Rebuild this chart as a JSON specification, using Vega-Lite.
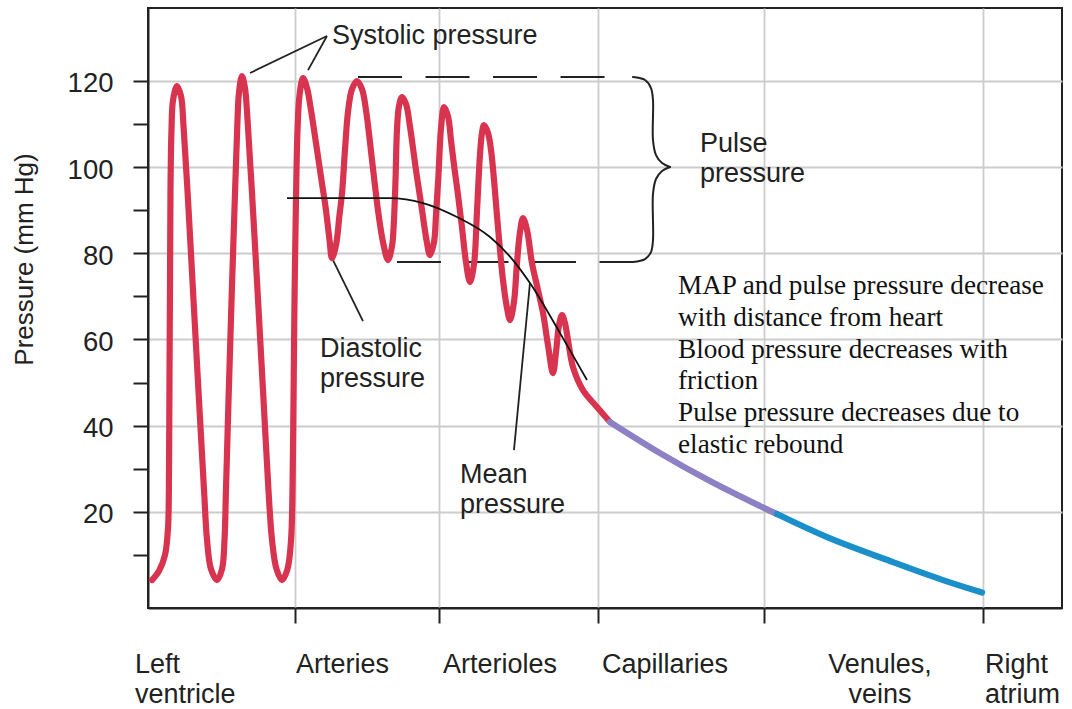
{
  "$schema": "https://vega.github.io/schema/vega-lite/v6.json",
  "width": 914,
  "height": 600,
  "autosize": {"type": "none"},
  "padding": {"left": 148, "top": 8, "right": 10, "bottom": 101},
  "background": "white",
  "config": {
    "view": {"stroke": "#222", "strokeWidth": 2},
    "axis": {"domainColor": "#222", "domainWidth": 2, "tickColor": "#222", "tickWidth": 2, "gridColor": "#cccccc", "gridWidth": 1.8}
  },
  "datasets": {
    "pressure": [
      {"i": 1, "d": 0.44, "p": 4.18, "seg": "arterial"},
      {"i": 2, "d": 1.2, "p": 6.26, "seg": "arterial"},
      {"i": 3, "d": 1.86, "p": 9.98, "seg": "arterial"},
      {"i": 4, "d": 2.19, "p": 16.24, "seg": "arterial"},
      {"i": 5, "d": 2.3, "p": 29.7, "seg": "arterial"},
      {"i": 6, "d": 2.35, "p": 50.58, "seg": "arterial"},
      {"i": 7, "d": 2.41, "p": 73.78, "seg": "arterial"},
      {"i": 8, "d": 2.46, "p": 94.66, "seg": "arterial"},
      {"i": 9, "d": 2.57, "p": 108.58, "seg": "arterial"},
      {"i": 10, "d": 2.74, "p": 115.55, "seg": "arterial"},
      {"i": 11, "d": 3.17, "p": 118.79, "seg": "arterial"},
      {"i": 12, "d": 3.61, "p": 116.47, "seg": "arterial"},
      {"i": 13, "d": 3.88, "p": 109.74, "seg": "arterial"},
      {"i": 14, "d": 4.38, "p": 92.34, "seg": "arterial"},
      {"i": 15, "d": 4.98, "p": 69.14, "seg": "arterial"},
      {"i": 16, "d": 5.58, "p": 45.94, "seg": "arterial"},
      {"i": 17, "d": 6.13, "p": 25.06, "seg": "arterial"},
      {"i": 18, "d": 6.46, "p": 13.46, "seg": "arterial"},
      {"i": 19, "d": 6.89, "p": 6.73, "seg": "arterial"},
      {"i": 20, "d": 7.55, "p": 4.18, "seg": "arterial"},
      {"i": 21, "d": 8.1, "p": 6.73, "seg": "arterial"},
      {"i": 22, "d": 8.37, "p": 13.46, "seg": "arterial"},
      {"i": 23, "d": 8.53, "p": 25.06, "seg": "arterial"},
      {"i": 24, "d": 8.81, "p": 45.94, "seg": "arterial"},
      {"i": 25, "d": 9.14, "p": 69.14, "seg": "arterial"},
      {"i": 26, "d": 9.52, "p": 93.97, "seg": "arterial"},
      {"i": 27, "d": 9.79, "p": 110.9, "seg": "arterial"},
      {"i": 28, "d": 9.96, "p": 117.4, "seg": "arterial"},
      {"i": 29, "d": 10.28, "p": 121.11, "seg": "arterial"},
      {"i": 30, "d": 10.61, "p": 118.33, "seg": "arterial"},
      {"i": 31, "d": 10.89, "p": 110.9, "seg": "arterial"},
      {"i": 32, "d": 11.38, "p": 93.97, "seg": "arterial"},
      {"i": 33, "d": 12.04, "p": 69.14, "seg": "arterial"},
      {"i": 34, "d": 12.64, "p": 45.94, "seg": "arterial"},
      {"i": 35, "d": 13.18, "p": 25.06, "seg": "arterial"},
      {"i": 36, "d": 13.57, "p": 13.46, "seg": "arterial"},
      {"i": 37, "d": 14.06, "p": 6.73, "seg": "arterial"},
      {"i": 38, "d": 14.66, "p": 4.18, "seg": "arterial"},
      {"i": 39, "d": 15.26, "p": 6.73, "seg": "arterial"},
      {"i": 40, "d": 15.65, "p": 13.46, "seg": "arterial"},
      {"i": 41, "d": 15.81, "p": 25.06, "seg": "arterial"},
      {"i": 42, "d": 15.92, "p": 45.94, "seg": "arterial"},
      {"i": 43, "d": 16.03, "p": 69.14, "seg": "arterial"},
      {"i": 44, "d": 16.19, "p": 92.34, "seg": "arterial"},
      {"i": 45, "d": 16.36, "p": 108.58, "seg": "arterial"},
      {"i": 46, "d": 16.58, "p": 116.7, "seg": "arterial"},
      {"i": 47, "d": 16.96, "p": 120.65, "seg": "arterial"},
      {"i": 48, "d": 17.4, "p": 118.33, "seg": "arterial"},
      {"i": 49, "d": 17.83, "p": 113.23, "seg": "arterial"},
      {"i": 50, "d": 18.38, "p": 105.57, "seg": "arterial"},
      {"i": 51, "d": 18.93, "p": 97.68, "seg": "arterial"},
      {"i": 52, "d": 19.47, "p": 90.02, "seg": "arterial"},
      {"i": 53, "d": 19.86, "p": 83.06, "seg": "arterial"},
      {"i": 54, "d": 20.13, "p": 78.89, "seg": "arterial"},
      {"i": 55, "d": 20.57, "p": 81.9, "seg": "arterial"},
      {"i": 56, "d": 20.95, "p": 88.86, "seg": "arterial"},
      {"i": 57, "d": 21.23, "p": 93.97, "seg": "arterial"},
      {"i": 58, "d": 21.55, "p": 103.94, "seg": "arterial"},
      {"i": 59, "d": 21.88, "p": 112.76, "seg": "arterial"},
      {"i": 60, "d": 22.32, "p": 118.1, "seg": "arterial"},
      {"i": 61, "d": 22.87, "p": 119.95, "seg": "arterial"},
      {"i": 62, "d": 23.41, "p": 118.1, "seg": "arterial"},
      {"i": 63, "d": 23.85, "p": 113.23, "seg": "arterial"},
      {"i": 64, "d": 24.51, "p": 101.62, "seg": "arterial"},
      {"i": 65, "d": 25.16, "p": 90.02, "seg": "arterial"},
      {"i": 66, "d": 25.71, "p": 82.6, "seg": "arterial"},
      {"i": 67, "d": 26.26, "p": 78.42, "seg": "arterial"},
      {"i": 68, "d": 26.7, "p": 81.67, "seg": "arterial"},
      {"i": 69, "d": 26.91, "p": 87.7, "seg": "arterial"},
      {"i": 70, "d": 27.08, "p": 96.98, "seg": "arterial"},
      {"i": 71, "d": 27.24, "p": 108.58, "seg": "arterial"},
      {"i": 72, "d": 27.46, "p": 114.15, "seg": "arterial"},
      {"i": 73, "d": 27.79, "p": 116.24, "seg": "arterial"},
      {"i": 74, "d": 28.23, "p": 114.62, "seg": "arterial"},
      {"i": 75, "d": 28.67, "p": 109.28, "seg": "arterial"},
      {"i": 76, "d": 29.32, "p": 99.3, "seg": "arterial"},
      {"i": 77, "d": 29.98, "p": 90.02, "seg": "arterial"},
      {"i": 78, "d": 30.47, "p": 83.06, "seg": "arterial"},
      {"i": 79, "d": 30.85, "p": 79.58, "seg": "arterial"},
      {"i": 80, "d": 31.29, "p": 82.6, "seg": "arterial"},
      {"i": 81, "d": 31.51, "p": 88.86, "seg": "arterial"},
      {"i": 82, "d": 31.78, "p": 98.14, "seg": "arterial"},
      {"i": 83, "d": 32.06, "p": 109.05, "seg": "arterial"},
      {"i": 84, "d": 32.39, "p": 113.92, "seg": "arterial"},
      {"i": 85, "d": 32.82, "p": 111.83, "seg": "arterial"},
      {"i": 86, "d": 33.15, "p": 106.26, "seg": "arterial"},
      {"i": 86.5, "d": 33.48, "p": 100.46, "seg": "arterial"},
      {"i": 87, "d": 33.92, "p": 93.5, "seg": "arterial"},
      {"i": 88, "d": 34.35, "p": 86.08, "seg": "arterial"},
      {"i": 89, "d": 34.79, "p": 77.96, "seg": "arterial"},
      {"i": 90, "d": 35.23, "p": 73.32, "seg": "arterial"},
      {"i": 91, "d": 35.67, "p": 77.49, "seg": "arterial"},
      {"i": 92, "d": 36.0, "p": 90.02, "seg": "arterial"},
      {"i": 93, "d": 36.32, "p": 102.78, "seg": "arterial"},
      {"i": 94, "d": 36.54, "p": 107.89, "seg": "arterial"},
      {"i": 95, "d": 36.76, "p": 109.74, "seg": "arterial"},
      {"i": 96, "d": 37.2, "p": 107.89, "seg": "arterial"},
      {"i": 97, "d": 37.53, "p": 103.94, "seg": "arterial"},
      {"i": 97.5, "d": 37.86, "p": 96.98, "seg": "arterial"},
      {"i": 98, "d": 38.29, "p": 86.08, "seg": "arterial"},
      {"i": 99, "d": 38.84, "p": 73.78, "seg": "arterial"},
      {"i": 100, "d": 39.28, "p": 67.29, "seg": "arterial"},
      {"i": 101, "d": 39.61, "p": 64.5, "seg": "arterial"},
      {"i": 102, "d": 40.04, "p": 68.68, "seg": "arterial"},
      {"i": 103, "d": 40.37, "p": 77.73, "seg": "arterial"},
      {"i": 104, "d": 40.7, "p": 84.92, "seg": "arterial"},
      {"i": 105, "d": 41.03, "p": 88.17, "seg": "arterial"},
      {"i": 106, "d": 41.47, "p": 85.38, "seg": "arterial"},
      {"i": 107, "d": 42.01, "p": 77.73, "seg": "arterial"},
      {"i": 108, "d": 42.67, "p": 71.46, "seg": "arterial"},
      {"i": 109, "d": 43.22, "p": 66.13, "seg": "arterial"},
      {"i": 110, "d": 43.76, "p": 58.7, "seg": "arterial"},
      {"i": 111, "d": 44.31, "p": 52.2, "seg": "arterial"},
      {"i": 112, "d": 44.64, "p": 57.08, "seg": "arterial"},
      {"i": 113, "d": 44.97, "p": 63.34, "seg": "arterial"},
      {"i": 114, "d": 45.3, "p": 65.66, "seg": "arterial"},
      {"i": 115, "d": 45.62, "p": 63.81, "seg": "arterial"},
      {"i": 116, "d": 45.95, "p": 59.86, "seg": "arterial"},
      {"i": 117, "d": 46.5, "p": 53.6, "seg": "arterial"},
      {"i": 118, "d": 47.59, "p": 48.26, "seg": "arterial"},
      {"i": 119, "d": 49.12, "p": 44.32, "seg": "arterial"},
      {"i": 120, "d": 50.55, "p": 40.84, "seg": "arterial"},
      {"i": 121, "d": 50.55, "p": 40.84, "seg": "capillary"},
      {"i": 122, "d": 56.02, "p": 33.64, "seg": "capillary"},
      {"i": 123, "d": 61.49, "p": 27.15, "seg": "capillary"},
      {"i": 124, "d": 66.96, "p": 21.35, "seg": "capillary"},
      {"i": 125, "d": 68.82, "p": 19.49, "seg": "capillary"},
      {"i": 126, "d": 68.82, "p": 19.49, "seg": "venous"},
      {"i": 127, "d": 74.29, "p": 14.15, "seg": "venous"},
      {"i": 128, "d": 81.51, "p": 8.35, "seg": "venous"},
      {"i": 129, "d": 86.98, "p": 4.18, "seg": "venous"},
      {"i": 130, "d": 91.25, "p": 1.3, "seg": "venous"}
    ],
    "mean": [
      {"i": 1, "d": 15.21, "p": 92.81},
      {"i": 2, "d": 26.48, "p": 92.81},
      {"i": 3, "d": 30.09, "p": 91.65},
      {"i": 4, "d": 33.81, "p": 88.4},
      {"i": 5, "d": 37.42, "p": 83.76},
      {"i": 6, "d": 39.93, "p": 78.42},
      {"i": 7, "d": 41.79, "p": 73.09},
      {"i": 8, "d": 45.08, "p": 61.48},
      {"i": 9, "d": 48.03, "p": 50.58}
    ],
    "pointers": [
      {"id": "sys1", "i": 1, "d": 19.58, "p": 130.39},
      {"id": "sys1", "i": 2, "d": 11.16, "p": 121.81},
      {"id": "sys2", "i": 1, "d": 19.58, "p": 130.39},
      {"id": "sys2", "i": 2, "d": 17.51, "p": 122.5},
      {"id": "dia", "i": 1, "d": 20.24, "p": 78.42},
      {"id": "dia", "i": 2, "d": 23.52, "p": 64.27},
      {"id": "mean", "i": 1, "d": 41.79, "p": 73.09},
      {"id": "mean", "i": 2, "d": 40.04, "p": 34.34}
    ],
    "brace": [
      {"half": "top", "i": 1, "d": 53.06, "p": 120.88},
      {"half": "top", "i": 2, "d": 54.38, "p": 120.19},
      {"half": "top", "i": 3, "d": 55.03, "p": 118.33},
      {"half": "top", "i": 4, "d": 55.25, "p": 115.55},
      {"half": "top", "i": 5, "d": 55.25, "p": 106.26},
      {"half": "top", "i": 6, "d": 55.58, "p": 102.78},
      {"half": "top", "i": 7, "d": 56.24, "p": 100.93},
      {"half": "top", "i": 8, "d": 57.11, "p": 100.0},
      {"half": "bottom", "i": 1, "d": 57.11, "p": 100.0},
      {"half": "bottom", "i": 2, "d": 56.24, "p": 99.07},
      {"half": "bottom", "i": 3, "d": 55.58, "p": 97.22},
      {"half": "bottom", "i": 4, "d": 55.25, "p": 93.74},
      {"half": "bottom", "i": 5, "d": 55.25, "p": 83.06},
      {"half": "bottom", "i": 6, "d": 55.03, "p": 80.28},
      {"half": "bottom", "i": 7, "d": 54.38, "p": 78.65},
      {"half": "bottom", "i": 8, "d": 53.06, "p": 77.96}
    ],
    "pulse": [
      {"edge": "systolic", "i": 1, "d": 22.98, "p": 120.88},
      {"edge": "systolic", "i": 2, "d": 50.22, "p": 120.88},
      {"edge": "diastolic", "i": 1, "d": 27.24, "p": 77.96},
      {"edge": "diastolic", "i": 2, "d": 53.06, "p": 77.96}
    ],
    "labels": [
      {"label": "Systolic pressure", "d": 20.13, "p": 128.54},
      {"label": "Pulse\npressure", "d": 60.39, "p": 103.48},
      {"label": "Diastolic\npressure", "d": 18.82, "p": 55.92},
      {"label": "Mean\npressure", "d": 34.14, "p": 26.68},
      {"label": "Left\nventricle", "d": -1.42, "p": -17.4},
      {"label": "Arteries", "d": 16.19, "p": -17.4},
      {"label": "Arterioles", "d": 32.28, "p": -17.4},
      {"label": "Capillaries", "d": 49.67, "p": -17.4},
      {"label": "Right\natrium", "d": 91.58, "p": -17.4}
    ],
    "centered": [
      {"label": "Venules,\nveins", "d": 80.09, "p": -17.4}
    ],
    "notes": [
      {"label": "MAP and pulse pressure decrease\nwith distance from heart\nBlood pressure decreases with\nfriction\nPulse pressure decreases due to\nelastic rebound", "d": 57.99, "p": 70.53}
    ]
  },
  "encoding": {
    "x": {
      "field": "d", "type": "quantitative",
      "scale": {"domain": [0, 100], "nice": false, "zero": false},
      "axis": {"values": [16.08, 31.84, 49.23, 67.4, 91.36], "labels": false, "title": null, "tickSize": 15, "grid": true}
    },
    "y": {
      "field": "p", "type": "quantitative",
      "scale": {"domain": [-2.3, 136.9], "nice": false, "zero": false},
      "axis": {
        "values": [10, 20, 30, 40, 50, 60, 70, 80, 90, 100, 110, 120],
        "labelExpr": "datum.value % 20 === 0 ? datum.label : ''",
        "grid": true,
        "gridOpacity": {"condition": {"test": "datum.value % 20 === 0", "value": 1}, "value": 0},
        "tickSize": 15,
        "labelPadding": 20,
        "labelFont": "Liberation Sans",
        "labelFontSize": 27.5,
        "labelColor": "#222",
        "labelOffset": 3,
        "title": "Pressure (mm Hg)",
        "titleFont": "Liberation Sans",
        "titleFontSize": 26,
        "titleFontWeight": "normal",
        "titleColor": "#222",
        "titleAngle": -90,
        "titleAlign": "center",
        "titleBaseline": "alphabetic",
        "titleX": -116,
        "titleY": 251
      }
    }
  },
  "layer": [
    {
      "data": {"name": "pulse"},
      "mark": {"type": "line", "color": "#222", "strokeWidth": 2, "strokeDash": [44, 23.5]},
      "encoding": {"detail": {"field": "edge"}, "order": {"field": "i"}}
    },
    {
      "data": {"name": "brace"},
      "mark": {"type": "line", "color": "#222", "strokeWidth": 2, "interpolate": "catmull-rom", "strokeCap": "round"},
      "encoding": {"detail": {"field": "half"}, "order": {"field": "i"}}
    },
    {
      "data": {"name": "pointers"},
      "mark": {"type": "line", "color": "#222", "strokeWidth": 1.8},
      "encoding": {"detail": {"field": "id"}, "order": {"field": "i"}}
    },
    {
      "data": {"name": "pressure"},
      "mark": {"type": "line", "strokeWidth": 6.2, "interpolate": "catmull-rom", "strokeCap": "round", "strokeJoin": "round"},
      "encoding": {
        "order": {"field": "i"},
        "color": {"field": "seg", "type": "nominal", "scale": {"domain": ["arterial", "capillary", "venous"], "range": ["#d8344f", "#8d80c4", "#1a8fc9"]}, "legend": null}
      }
    },
    {
      "data": {"name": "mean"},
      "mark": {"type": "line", "color": "#111", "strokeWidth": 1.8, "interpolate": "monotone"},
      "encoding": {"order": {"field": "i"}}
    },
    {
      "data": {"name": "labels"},
      "mark": {"type": "text", "font": "Liberation Sans", "fontSize": 27, "color": "#222", "align": "left", "baseline": "alphabetic", "lineBreak": "\n", "lineHeight": 30},
      "encoding": {"text": {"field": "label"}}
    },
    {
      "data": {"name": "centered"},
      "mark": {"type": "text", "font": "Liberation Sans", "fontSize": 27, "color": "#222", "align": "center", "baseline": "alphabetic", "lineBreak": "\n", "lineHeight": 30},
      "encoding": {"text": {"field": "label"}}
    },
    {
      "data": {"name": "notes"},
      "mark": {"type": "text", "font": "Liberation Serif", "fontSize": 27.2, "color": "#111", "align": "left", "baseline": "alphabetic", "lineBreak": "\n", "lineHeight": 31.8},
      "encoding": {"text": {"field": "label"}}
    }
  ]
}
